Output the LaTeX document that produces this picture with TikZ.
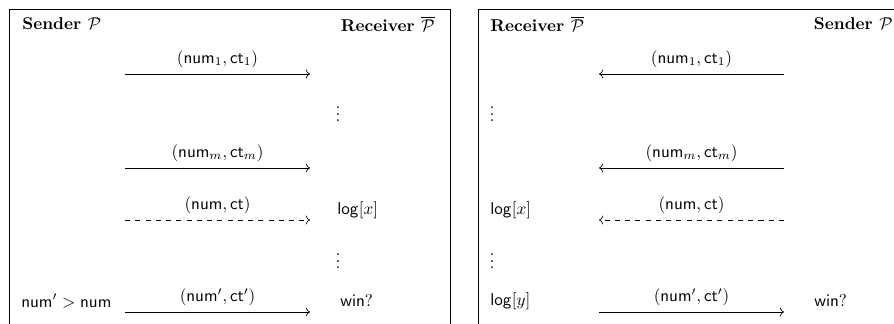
\documentclass[tikz,border=0pt]{standalone}
\usepackage{amsmath,amssymb}
\usetikzlibrary{arrows.meta}

\begin{document}
\begin{tikzpicture}[
x=0.585pt, y=-0.585pt,
every node/.style={inner sep=0pt},
party/.style={font=\bfseries},
state/.style={anchor=west},
frame/.style={draw, line width=0.5pt},
msg/.style={->},
fake/.style={->, dashed}
]
\useasboundingbox (0,0) rectangle (894,324);

% Frames
\draw[frame] (9,324) -- (9,9) -- (450,9) -- (450,324);
\draw[frame] (478,324) -- (478,9) -- (894,9);

% Left game: nodes
\node[party, anchor=west] (lsend) at (22,24) {Sender $\mathcal{P}$};
\node[party, anchor=east] (lrecv) at (435,24) {Receiver $\overline{\mathcal{P}}$};
\node (ldots1) at (338,109) {$\vdots$};
\node[state] (llogx) at (337,210) {$\mathsf{log}[x]$};
\node (ldots2) at (338,256) {$\vdots$};
\node[state] (lcond) at (21,301) {$\mathsf{num}' > \mathsf{num}$};
\node[state] (lwin) at (340,301) {$\mathsf{win?}$};

\coordinate (la1) at (125,74);  \coordinate (lb1) at (310,74);
\coordinate (la2) at (125,168); \coordinate (lb2) at (310,168);
\coordinate (la3) at (125,220); \coordinate (lb3) at (310,220);
\coordinate (la4) at (125,312); \coordinate (lb4) at (310,312);

% Left game: connections
\draw[msg] (la1) -- node[above=3.5pt]{$(\mathsf{num}_1,\mathsf{ct}_1)$} (lb1);
\draw[msg] (la2) -- node[above=3.5pt]{$(\mathsf{num}_m,\mathsf{ct}_m)$} (lb2);
\draw[fake] (la3) -- node[above=3.5pt]{$(\mathsf{num},\mathsf{ct})$} (lb3);
\draw[msg] (la4) -- node[above=3.5pt]{$(\mathsf{num}',\mathsf{ct}')$} (lb4);

% Right game: nodes
\node[party, anchor=west] (rrecv) at (490,24) {Receiver $\overline{\mathcal{P}}$};
\node[party, anchor=east] (rsend) at (893,24) {Sender $\mathcal{P}$};
\node (rdots1) at (492,109) {$\vdots$};
\node[state] (rlogx) at (490,210) {$\mathsf{log}[x]$};
\node (rdots2) at (492,256) {$\vdots$};
\node[state] (rlogy) at (490,301) {$\mathsf{log}[y]$};
\node[state] (rwin) at (814,301) {$\mathsf{win?}$};

\coordinate (ra1) at (784,74);  \coordinate (rb1) at (599,74);
\coordinate (ra2) at (784,168); \coordinate (rb2) at (599,168);
\coordinate (ra3) at (784,220); \coordinate (rb3) at (599,220);
\coordinate (ra4) at (599,312); \coordinate (rb4) at (784,312);

% Right game: connections
\draw[msg] (ra1) -- node[above=3.5pt]{$(\mathsf{num}_1,\mathsf{ct}_1)$} (rb1);
\draw[msg] (ra2) -- node[above=3.5pt]{$(\mathsf{num}_m,\mathsf{ct}_m)$} (rb2);
\draw[fake] (ra3) -- node[above=3.5pt]{$(\mathsf{num},\mathsf{ct})$} (rb3);
\draw[msg] (ra4) -- node[above=3.5pt]{$(\mathsf{num}',\mathsf{ct}')$} (rb4);

\end{tikzpicture}
\end{document}
